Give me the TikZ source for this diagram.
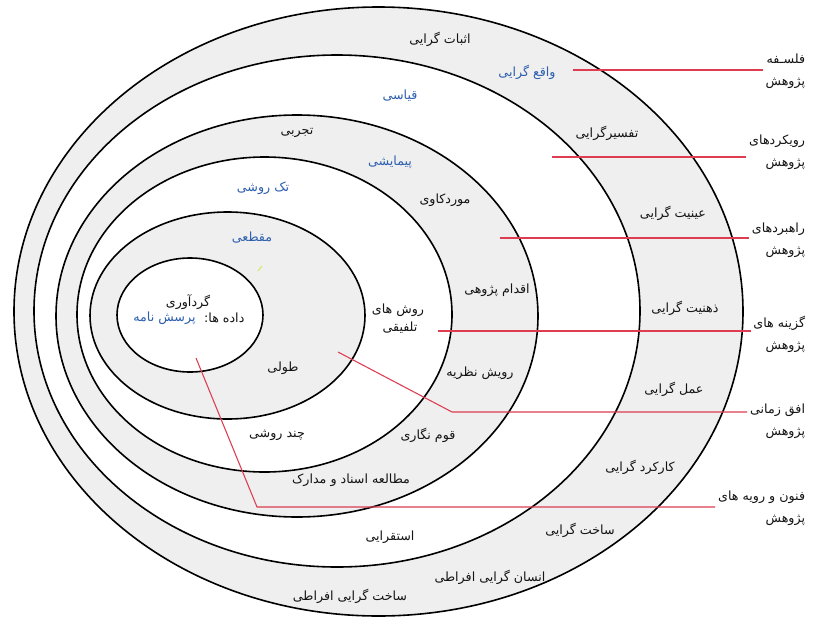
\documentclass[tikz,border=0pt]{standalone}
\usepackage{fontspec}
\newfontfamily\farsi[Script=Arabic]{DejaVu Sans}
\TeXXeTstate=1
\newcommand\fa[1]{{\farsi\beginR #1\endR}}
\definecolor{ringgray}{RGB}{239,239,239}
\definecolor{linkred}{RGB}{222,60,80}
\definecolor{pickblue}{RGB}{45,95,175}
\definecolor{txt}{RGB}{20,20,20}
\begin{document}
\begin{tikzpicture}[x=0.75pt,y=-0.75pt,
  ring/.style={draw=black,line width=1.2pt},
  lbl/.style={inner sep=1pt,text=txt,font=\fontsize{9.5}{11}\selectfont},
  pick/.style={lbl,text=pickblue},
  side/.style={inner sep=2pt,text=txt,align=right,anchor=east,font=\fontsize{9.5}{16.5}\selectfont},
  link/.style={draw=linkred,line width=0.8pt}]
\useasboundingbox (0,0) rectangle (825,618);
\fill[white] (0,0) rectangle (825,618);
% rings
\path[ring,fill=ringgray] (378.5,311.5) ellipse [x radius=273.375pt, y radius=228.375pt];
\path[ring,fill=white]    (337,311)     ellipse [x radius=227.25pt, y radius=192pt];
\path[ring,fill=ringgray] (297,316)     ellipse [x radius=180.75pt, y radius=150.75pt];
\path[ring,fill=white]    (264.5,314.5) ellipse [x radius=140.625pt, y radius=118.125pt];
\path[ring,fill=ringgray] (227.5,315.5) ellipse [x radius=103.125pt, y radius=77.625pt];
\path[ring,fill=white]    (190,315)     ellipse [x radius=54.75pt, y radius=42.75pt];
% stray mark
\draw[yellow!70!green!60,line width=0.8pt] (258,271) -- (262,266);
% ring 1
\node[lbl]  (a1) at (440,39)  {\fa{اثبات گرایی}};
\node[pick] (a2) at (527,72)  {\fa{واقع گرایی}};
\node[lbl]  (a3) at (607,133) {\fa{تفسیرگرایی}};
\node[lbl]  (a4) at (673,213) {\fa{عینیت گرایی}};
\node[lbl]  (a5) at (685,308) {\fa{ذهنیت گرایی}};
\node[lbl]  (a6) at (674,389) {\fa{عمل گرایی}};
\node[lbl]  (a7) at (640,467) {\fa{کارکرد گرایی}};
\node[lbl]  (a8) at (580,530) {\fa{ساخت گرایی}};
\node[lbl]  (a9) at (490,577) {\fa{انسان گرایی افراطی}};
\node[lbl]  (a10) at (350,596) {\fa{ساخت گرایی افراطی}};
% ring 2
\node[pick] (b1) at (400,96)  {\fa{قیاسی}};
\node[lbl]  (b2) at (390,537) {\fa{استقرایی}};
% ring 3
\node[lbl]  (c1) at (297,133) {\fa{تجربی}};
\node[pick] (c2) at (390,162) {\fa{پیمایشی}};
\node[lbl]  (c3) at (445,200) {\fa{موردکاوی}};
\node[lbl]  (c4) at (497,290) {\fa{اقدام پژوهی}};
\node[lbl]  (c5) at (480,373) {\fa{رویش نظریه}};
\node[lbl]  (c6) at (428,435) {\fa{قوم نگاری}};
\node[lbl]  (c7) at (351,480) {\fa{مطالعه اسناد و مدارک}};
% ring 4
\node[pick] (d1) at (263,188) {\fa{تک روشی}};
\node[lbl]  (d2) at (398,310) {\fa{روش های}};
\node[lbl]  (d3) at (400,328) {\fa{تلفیقی}};
\node[lbl]  (d4) at (277,435) {\fa{چند روشی}};
% ring 5
\node[pick] (e1) at (252,238) {\fa{مقطعی}};
\node[lbl]  (e2) at (283,368) {\fa{طولی}};
% core
\node[lbl]  (f1) at (188,302) {\fa{گردآوری}};
\node[lbl,anchor=east]  (f2) at (246,318) {\fa{داده ها:}};
\node[pick,anchor=east] (f3) at ([xshift=-4]f2.west) {\fa{پرسش نامه}};
% side labels
\node[side] (s1) at (808,71)  {\fa{فلسـفه}\\\fa{پژوهش}};
\node[side] (s2) at (808,152) {\fa{رویکردهای}\\\fa{پژوهش}};
\node[side] (s3) at (808,240) {\fa{راهبردهای}\\\fa{پژوهش}};
\node[side] (s4) at (808,334) {\fa{گزینه های}\\\fa{پژوهش}};
\node[side] (s5) at (808,421) {\fa{افق زمانی}\\\fa{پژوهش}};
\node[side] (s6) at (808,508) {\fa{فنون و رویه های}\\\fa{پژوهش}};
% connectors
\coordinate (p1) at (573,70);
\coordinate (p2) at (552,157);
\coordinate (p3) at (500,238);
\coordinate (p4) at (438,331);
\coordinate (p5) at (338,352);
\coordinate (q5) at (452,412);
\coordinate (p6) at (196,358);
\coordinate (q6) at (257,507);
\draw[link] (p1) -- (p1 -| s1.west);
\draw[link] (p2) -- (p2 -| s2.west);
\draw[link] (p3) -- (p3 -| s3.west);
\draw[link] (p4) -- (p4 -| s4.west);
\draw[link] (p5) -- (q5) -- (q5 -| s5.west);
\draw[link] (p6) -- (q6) -- (q6 -| s6.west);
\end{tikzpicture}
\end{document}
